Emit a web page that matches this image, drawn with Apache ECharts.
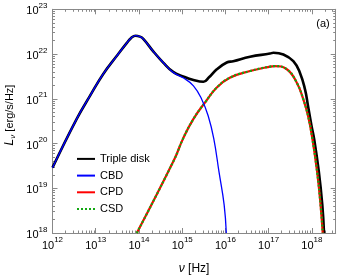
<!DOCTYPE html>
<html><head><meta charset="utf-8">
<script src="https://cdn.jsdelivr.net/npm/echarts@6/dist/echarts.min.js"></script>
<style>html,body{margin:0;padding:0;background:#fff}#c{width:348px;height:280px}</style>
</head><body><div id="c"></div>
<script>
// values are log10(nu [Hz]) and log10(L_nu [erg/s/Hz])
const tripleNu = [12.0, 12.56, 12.87, 13.17, 13.48, 13.72, 13.82, 13.92, 14.02, 14.10, 14.33, 14.56, 14.79, 15.02, 15.26, 15.49, 15.62, 15.80, 16.03, 16.18, 16.57, 17.03, 17.11, 17.34, 17.57, 17.72, 17.84, 17.91, 17.99, 18.05, 18.16, 18.24, 18.28];
const tripleL  = [19.46, 20.55, 21.07, 21.55, 21.95, 22.25, 22.36, 22.41, 22.39, 22.34, 22.06, 21.81, 21.60, 21.50, 21.42, 21.38, 21.48, 21.66, 21.81, 21.84, 21.94, 22.01, 22.03, 21.99, 21.84, 21.59, 21.21, 20.84, 20.40, 20.11, 19.37, 18.63, 18.0];
const cbdNu = [12.0, 12.56, 12.87, 13.17, 13.48, 13.72, 13.82, 13.92, 14.02, 14.10, 14.33, 14.56, 14.79, 15.02, 15.26, 15.45, 15.60, 15.73, 15.85, 15.97, 16.02];
const cbdL  = [19.46, 20.55, 21.07, 21.55, 21.95, 22.25, 22.36, 22.41, 22.39, 22.34, 22.06, 21.81, 21.59, 21.47, 21.29, 20.99, 20.62, 20.11, 19.37, 18.63, 18.0];
const cpdNu = [13.95, 14.81, 15.02, 15.26, 15.53, 15.80, 16.10, 16.57, 17.03, 17.14, 17.42, 17.65, 17.80, 17.91, 18.01, 18.12, 18.20, 18.25];
const cpdL  = [18.0, 19.63, 20.11, 20.55, 20.92, 21.25, 21.47, 21.62, 21.72, 21.73, 21.66, 21.36, 20.99, 20.62, 20.11, 19.37, 18.63, 18.0];
const csdNu = [13.95, 14.81, 15.02, 15.26, 15.53, 15.80, 16.10, 16.57, 17.03, 17.14, 17.42, 17.65, 17.80, 17.91, 18.01, 18.12, 18.20, 18.25];
const csdL  = [18.0, 19.63, 20.11, 20.55, 20.92, 21.25, 21.47, 21.62, 21.72, 21.73, 21.66, 21.36, 20.99, 20.62, 20.11, 19.37, 18.63, 18.0];
const xTickExps = [12, 13, 14, 15, 16, 17, 18];
const yTickExps = [18, 19, 20, 21, 22, 23];
const xMin = 12, xMax = 18.55, yMin = 18, yMax = 23;

const FONT = '"Liberation Sans", Arial, Helvetica, sans-serif';
const AX = '#888';
function minorOf(exps, lo, hi) {
  const out = [];
  exps.forEach(e => { for (let k = 2; k <= 9; k++) { const v = e + Math.log10(k); if (v > lo && v < hi) out.push(v); } });
  return out;
}
const xMinor = minorOf(xTickExps, xMin, xMax);
const yMinor = minorOf(yTickExps, yMin, yMax);
const pow = v => '{b|10}{s|' + Math.round(v) + '}';
const powRich = {
  b: { fontSize: 11, fontFamily: FONT, color: '#000', verticalAlign: 'bottom', lineHeight: 15 },
  s: { fontSize: 8, fontFamily: FONT, color: '#000', verticalAlign: 'top', lineHeight: 15 }
};
function axis(kind, pos, major, showLine, showLabel, extra) {
  const a = {
    type: 'value', position: pos,
    min: kind === 'x' ? xMin : yMin, max: kind === 'x' ? xMax : yMax,
    splitLine: { show: false },
    axisLine: { show: showLine, onZero: false, lineStyle: { color: AX, width: 1 } },
    axisTick: { show: true, inside: true, length: major ? 5 : 2.5,
      customValues: major ? (kind === 'x' ? xTickExps : yTickExps) : (kind === 'x' ? xMinor : yMinor),
      lineStyle: { color: AX, width: 1 } },
    axisLabel: { show: showLabel }
  };
  if (showLabel) {
    a.axisLabel = { show: true, customValues: kind === 'x' ? xTickExps : yTickExps,
      formatter: pow, rich: powRich, margin: kind === 'x' ? 3 : 5 };
  }
  return Object.assign(a, extra || {});
}
const chart = echarts.init(document.getElementById('c'), null, { renderer: 'canvas' });
const mk = (nu, L) => nu.map((v, i) => [v, L[i]]);
const lineSeries = (name, nu, L, color, width, z, dash) => ({
  name, type: 'line', data: mk(nu, L), showSymbol: false, symbol: 'circle', symbolSize: 0,
  smooth: 0.45, clip: true, z,
  lineStyle: { color, width, type: dash || 'solid' }, itemStyle: { color }
});
chart.setOption({
  animation: false,
  backgroundColor: '#fff',
  textStyle: { fontFamily: FONT },
  grid: { left: 52.5, right: 12.3, top: 9.3, bottom: 45 },
  xAxis: [
    axis('x', 'bottom', true, true, true, {
      name: '{i|ν} [Hz]', nameLocation: 'middle', nameGap: 30,
      nameTextStyle: { fontSize: 12, color: '#000', fontFamily: FONT,
        rich: { i: { fontStyle: 'italic', fontSize: 12, fontFamily: FONT, color: '#000' } } }
    }),
    axis('x', 'bottom', false, false, false),
    axis('x', 'top', true, true, false),
    axis('x', 'top', false, false, false)
  ],
  yAxis: [
    axis('y', 'left', true, true, true),
    axis('y', 'left', false, false, false),
    axis('y', 'right', true, true, false),
    axis('y', 'right', false, false, false)
  ],
  legend: {
    orient: 'vertical', left: 76, top: 153.3, itemWidth: 18, itemHeight: 14, itemGap: 5.5,
    padding: 0,
    itemStyle: { opacity: 0, borderWidth: 0 },
    textStyle: { fontSize: 11, color: '#000', fontFamily: FONT },
    data: ['Triple disk', 'CBD', 'CPD', 'CSD']
  },
  graphic: [
    { type: 'text', x: 10, y: 115, rotation: Math.PI / 2,
      style: { text: '{i|L}{v|ν} [erg/s/Hz]', fill: '#000', font: '11px ' + FONT,
        align: 'center', verticalAlign: 'middle',
        rich: { i: { fontStyle: 'italic', fontSize: 12, fontFamily: FONT },
                v: { fontStyle: 'italic', fontSize: 8, fontFamily: FONT, verticalAlign: 'bottom', padding: [6, 0, 0, 0] } } } },
    { type: 'text', x: 323, y: 24,
      style: { text: '(a)', fill: '#000', font: '11px ' + FONT, align: 'center', verticalAlign: 'middle' } }
  ],
  series: [
    lineSeries('Triple disk', tripleNu, tripleL, '#000000', 2.6, 1),
    lineSeries('CPD', cpdNu, cpdL, '#ff0000', 2.2, 2),
    lineSeries('CSD', csdNu, csdL, '#12a812', 2.2, 3, [2, 2]),
    lineSeries('CBD', cbdNu, cbdL, '#0000ff', 1.3, 4)
  ]
});
</script></body></html>
